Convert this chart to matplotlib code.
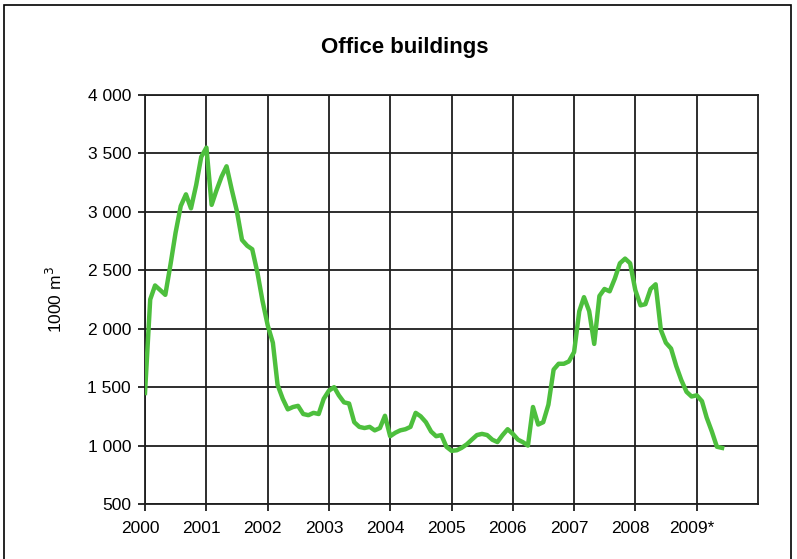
import matplotlib as mpl
mpl.use('Agg')
import matplotlib.pyplot as plt
import matplotlib.transforms as mtransforms
from matplotlib.patches import Rectangle
import pandas as pd

# monthly volume of office buildings, 1000 m3 (Jan 2000 - Jun 2009)
start_month = '2000-01'
volume = [
    1450, 2250, 2370, 2330, 2290, 2550, 2820, 3050, 3150, 3030, 3230, 3470,
    3550, 3060, 3180, 3300, 3390, 3190, 3010, 2760, 2710, 2680, 2480, 2240,
    2030, 1880, 1520, 1400, 1310, 1330, 1340, 1270, 1260, 1280, 1270, 1400,
    1470, 1500, 1430, 1370, 1360, 1200, 1160, 1150, 1160, 1130, 1150, 1255,
    1080, 1110, 1130, 1140, 1160, 1280, 1250, 1200, 1120, 1080, 1090, 990,
    955, 960, 980, 1010, 1050, 1090, 1100, 1090, 1050, 1030, 1090, 1140,
    1100, 1050, 1030, 1000, 1330, 1180, 1200, 1350, 1650, 1700, 1700, 1720,
    1800, 2150, 2270, 2150, 1870, 2280, 2340, 2320, 2430, 2560, 2600, 2560,
    2330, 2200, 2210, 2340, 2380, 1990, 1880, 1830, 1680, 1560, 1460, 1420,
    1430, 1380, 1240, 1120, 990, 980,
]
year_labels = ['2000', '2001', '2002', '2003', '2004',
               '2005', '2006', '2007', '2008', '2009*']
y_ticks = [500, 1000, 1500, 2000, 2500, 3000, 3500, 4000]

plt.rcParams['font.family'] = ['Liberation Sans', 'DejaVu Sans']

dates = pd.date_range(start_month, periods=len(volume), freq='MS')
year_starts = pd.date_range('2000-01-01', periods=len(year_labels) + 1, freq='YS')

W, H = 797, 559
fig = plt.figure(figsize=(W / 100, H / 100), dpi=100)
ax = fig.add_axes([145 / W, 1 - 504 / H, (758 - 145) / W, (504 - 95) / H])

ax.plot(dates, volume, color='#4dbf3d', lw=3.2, solid_joinstyle='round', zorder=3)

ax.set_xlim(year_starts[0], year_starts[-1])
ax.set_ylim(y_ticks[0], y_ticks[-1])
ax.set_xticks(year_starts[:-1])
ax.set_xticklabels(year_labels)
ax.set_yticks(y_ticks)
ax.set_yticklabels([f'{v:,}'.replace(',', ' ') for v in y_ticks])

grid_c = '#1e1e1e'
ax.grid(True, color=grid_c, lw=1.3, zorder=1)
for sp in ax.spines.values():
    sp.set_color(grid_c)
    sp.set_linewidth(1.3)
ax.tick_params(direction='out', length=5, width=1.3, color=grid_c,
               labelsize=12.5, pad=5)
ax.tick_params(axis='x', pad=7)

# Excel puts the year labels a bit left of the ticks
shift = mtransforms.ScaledTranslation(-5 / 100, 0, fig.dpi_scale_trans)
for lbl in ax.get_xticklabels():
    lbl.set_transform(lbl.get_transform() + shift)

ax.set_ylabel('1000 m$^3$', fontsize=12.5, labelpad=16)

fig.text(405 / W, 1 - 47 / H, 'Office buildings', ha='center', va='center',
         fontsize=16, fontweight='bold')

# outer chart border
fig.patches.append(Rectangle((4 / W, -0.05), (791 - 4) / W, 1.05 - 5 / H,
                             transform=fig.transFigure, fill=False,
                             edgecolor='black', lw=1.2))

fig.savefig('out.png', dpi=100)
